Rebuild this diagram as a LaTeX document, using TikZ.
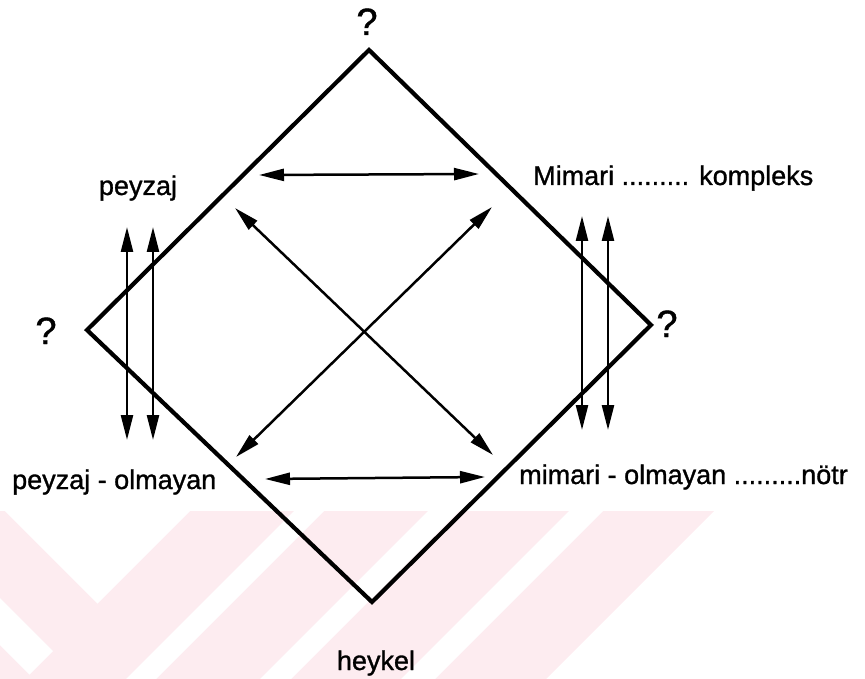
\documentclass[tikz,border=0pt]{standalone}
\usepackage{fontspec}
\setmainfont{Liberation Sans}
\newfontfamily\lblfont{Liberation Sans}[FakeBold=1.1]
\usetikzlibrary{arrows.meta}
\definecolor{wmpink}{RGB}{253,236,240}
\begin{document}
\begin{tikzpicture}[x=1pt,y=-1pt,
  edge/.style={line width=4.2pt, line join=miter},
  dbl/.style={line width=2.5pt,
    {Triangle[length=25pt,width=12pt]}-{Triangle[length=25pt,width=12pt]}},
  lbl/.style={font=\lblfont\fontsize{27}{32}\selectfont, inner sep=0pt},
  qm/.style={font=\lblfont\fontsize{38}{44}\selectfont, inner sep=0pt}]
\useasboundingbox (0,0) rectangle (865,679);

% pale background stripes
\fill[wmpink] (0,511) -- (714,511) -- (546,679) -- (0,679) -- cycle;
\fill[white] (5,511) -- (97.5,603.5) -- (190,511) -- cycle;
\fill[white] (0,598) -- (53,651) -- (29.5,674.5) -- (0,645) -- cycle;
\fill[white] (294,511) -- (324,511) -- (156,679) -- (126,679) -- cycle;
\fill[white] (428,511) -- (459,511) -- (291,679) -- (260,679) -- cycle;
\fill[white] (569,511) -- (603,511) -- (435,679) -- (401,679) -- cycle;

% corners of the square
\coordinate (T) at (369,50);
\coordinate (R) at (651,325);
\coordinate (B) at (372,602);
\coordinate (L) at (87,330);
\draw[edge] (T) -- (R) -- (B) -- (L) -- cycle;

% labels
\node[qm, anchor=base] (qt) at (367,35) {?};
\node[qm, anchor=base] (ql) at (46,344) {?};
\node[qm, anchor=base] (qr) at (667,337) {?};
\node[lbl, anchor=base] (pz) at (138,195) {peyzaj};
\node[lbl, anchor=base west] (mk) at (533,185) {Mimari ......... kompleks};
\node[lbl, anchor=base west] (pzo) at (12,489) {peyzaj - olmayan};
\node[lbl, anchor=base west] (mmo) at (519,484) {mimari - olmayan .........nötr};
\node[lbl, anchor=base] (hk) at (376,670) {heykel};

% arrow ends
\coordinate (h1a) at (259,175);
\coordinate (h1b) at (479,174);
\coordinate (h2a) at (265,479);
\coordinate (h2b) at (485,477);
\coordinate (d1a) at (235,208);
\coordinate (d1b) at (493,455);
\coordinate (d2a) at (236,457);
\coordinate (d2b) at (492,207);
\coordinate (l1a) at (127,227);
\coordinate (l1b) at (127,440);
\coordinate (l2a) at (153,227);
\coordinate (l2b) at (153,440);
\coordinate (r1a) at (582,216);
\coordinate (r1b) at (582,430);
\coordinate (r2a) at (608,216);
\coordinate (r2b) at (608,430);

\draw[dbl] (h1a) -- (h1b);
\draw[dbl] (h2a) -- (h2b);
\draw[dbl] (d1a) -- (d1b);
\draw[dbl] (d2a) -- (d2b);
\draw[dbl] (l1a) -- (l1b);
\draw[dbl] (l2a) -- (l2b);
\draw[dbl] (r1a) -- (r1b);
\draw[dbl] (r2a) -- (r2b);
\end{tikzpicture}
\end{document}
